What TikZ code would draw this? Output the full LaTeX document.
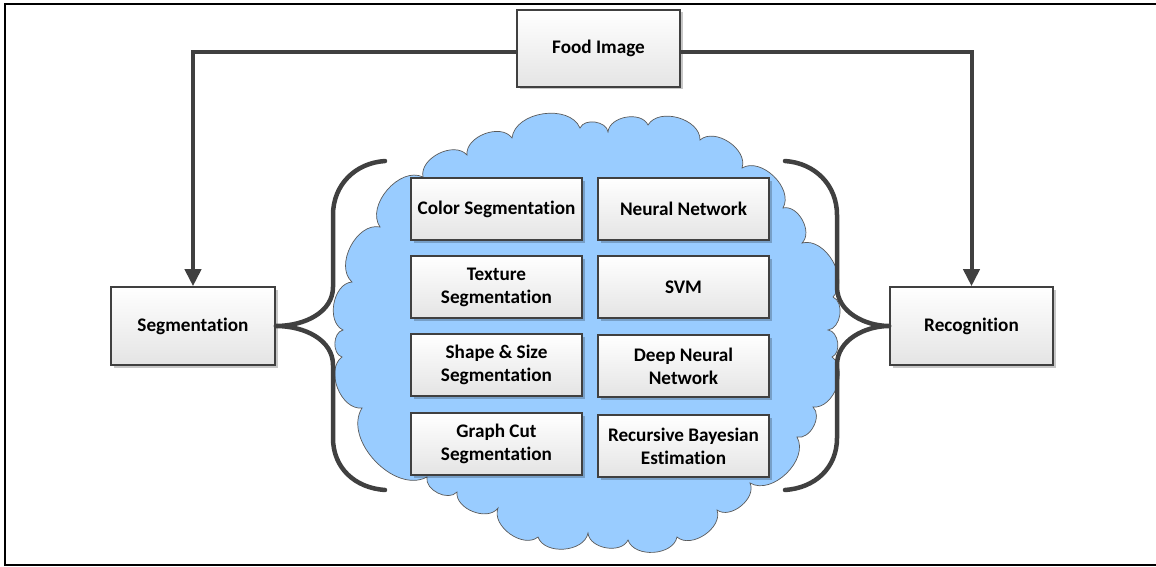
\documentclass[tikz,border=0pt]{standalone}
\usepackage{fontspec}
\setmainfont{Carlito}[Ligatures={NoCommon,NoContextual},Contextuals=NoAlternate]
\usetikzlibrary{arrows.meta,shadows}
\definecolor{boxline}{HTML}{404040}
\definecolor{boxbot}{HTML}{E4E4E4}
\definecolor{cloudfill}{HTML}{99CCFF}
\definecolor{cloudline}{HTML}{5A5A5A}
\definecolor{wire}{HTML}{404040}
\begin{document}
\begin{tikzpicture}[x=1pt,y=-1pt,
  box/.style={draw=boxline, line width=1.6pt, top color=white, bottom color=boxbot,
    font=\bfseries\fontsize{19.2}{23}\selectfont, align=center, inner sep=0pt,
    drop shadow={shadow xshift=2.5pt, shadow yshift=-2.5pt, fill=black, opacity=0.22}},
  mainbox/.style={box, minimum width=163pt, minimum height=77pt},
  method/.style={box, minimum width=171pt, minimum height=62pt},
  wirearrow/.style={draw=wire, line width=4pt, -{Triangle[width=16pt,length=17pt]}},
  bracket/.style={draw=wire, line width=4.5pt, line cap=round, line join=round},
  bump/.style={bend left=75}]
\useasboundingbox (0,0) rectangle (1156,567);
% frame
\draw[line width=1.5pt] (1160,4) -- (5,4) -- (5,565) -- (1160,565);

% cloud behind the method boxes
\draw[fill=cloudfill, draw=cloudline, line width=0.7pt]
  (423,177) to[bump] (467,155) to[bump] (512,138) to[bump] (580,128)
  to[bump] (608,132) to[bump] (648,125) to[bump] (700,140) to[bump] (742,168)
  to[bump] (783,208) to[bump] (802,243) to[bump] (833,297) to[bump] (828,330)
  to[bump] (832,357) to[bump] (813,407) to[bump] (797,437) to[bump] (750,483)
  to[bump] (717,510) to[bump] (677,537) to[bump] (628,540) to[bump] (588,533)
  to[bump] (538,537) to[bump] (498,508) to[bump] (457,492) to[bump] (427,477)
  to[bump] (362,408) to[bump] (342,357) to[bump] (343,330) to[bump] (352,282)
  to[bump] (380,227) to[bump] cycle;

% main stages
\node[mainbox] (food) at (598.5,48.5) {Food Image};
\node[mainbox, minimum width=164pt, minimum height=78pt] (seg) at (193,326) {Segmentation};
\node[mainbox, minimum height=78pt] (rec) at (971.5,326) {Recognition};

% segmentation methods
\node[method] (color)   at (496.5,209) {Color Segmentation};
\node[method] (texture) at (496.5,287) {Texture\\Segmentation};
\node[method] (shape)   at (496.5,365) {Shape \& Size\\Segmentation};
\node[method] (graph)   at (496.5,444) {Graph Cut\\Segmentation};

% recognition methods
\node[method] (nn)    at (683.5,209) {Neural Network};
\node[method] (svm)   at (683.5,287) {SVM};
\node[method] (dnn)   at (683.5,366) {Deep Neural\\Network};
\node[method] (bayes) at (683.5,446) {Recursive Bayesian\\Estimation};

% connectors from the image
\draw[wirearrow] ([yshift=-3.5pt]food.west) -| (seg.north);
\draw[wirearrow] ([yshift=-3.5pt]food.east) -| (rec.north);

% curly brackets
\draw[bracket] (385,161) .. controls (355,163) and (333,185) .. (333,215)
  -- (333,287) .. controls (333,312) and (305,326) .. (seg.east)
  .. controls (305,326) and (333,340) .. (333,365)
  -- (333,438) .. controls (333,468) and (355,488) .. (385,490);
\draw[bracket] (785,161) .. controls (815,163) and (837,185) .. (837,215)
  -- (837,287) .. controls (837,312) and (865,326) .. (rec.west)
  .. controls (865,326) and (837,340) .. (837,365)
  -- (837,438) .. controls (837,468) and (815,488) .. (785,490);
\end{tikzpicture}
\end{document}
